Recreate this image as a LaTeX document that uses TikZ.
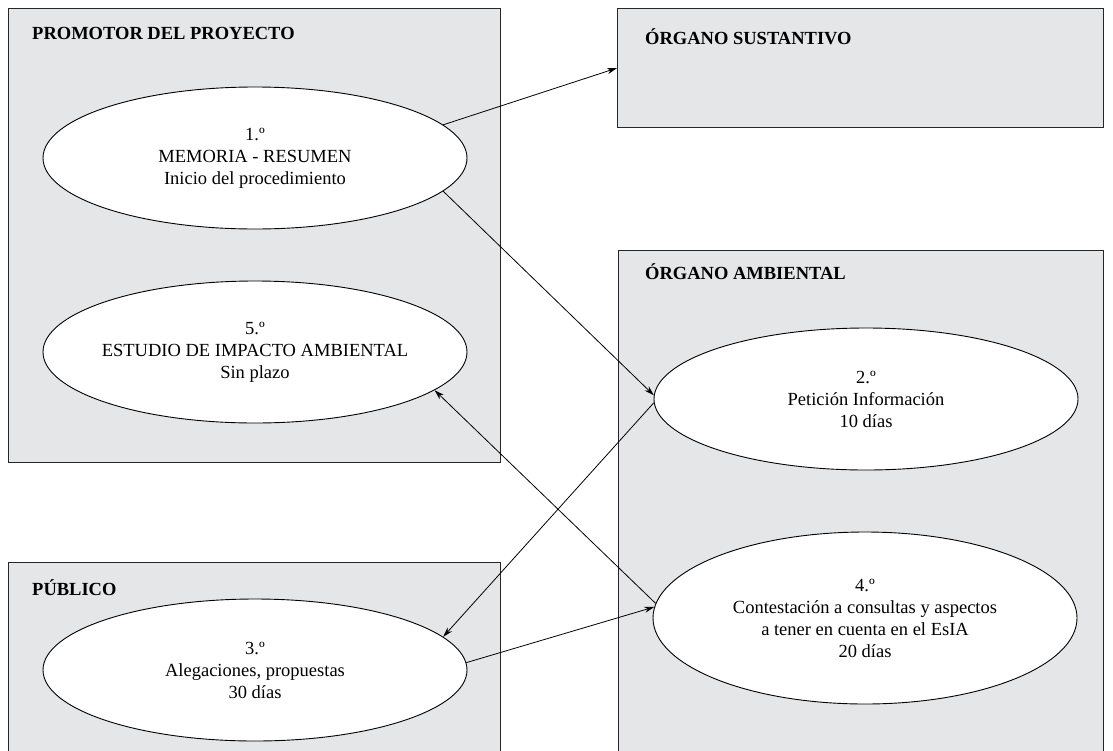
\documentclass[tikz,border=0pt]{standalone}
\usepackage{fontspec}
\setmainfont{Liberation Serif}
\usetikzlibrary{shapes.geometric,arrows.meta}
\definecolor{boxgray}{RGB}{229,230,232}
\begin{document}
\begin{tikzpicture}[x=1pt,y=-1pt,
  panel/.style={draw=black!85, line width=1.1pt, fill=boxgray, anchor=north west, inner sep=0pt},
  paneltitle/.style={anchor=west, inner sep=0pt, font=\fontsize{18.5}{22}\selectfont\bfseries},
  stage/.style={ellipse, draw=black, line width=0.9pt, fill=white, minimum width=424pt,
    minimum height=142pt, inner xsep=-14pt, inner ysep=0pt, align=center, font=\fontsize{18.5}{22}\selectfont},
  link/.style={line width=0.8pt, -{Stealth[length=10pt,width=6pt]}}]
\useasboundingbox (0,0) rectangle (1113,750);
\clip (0,0) rectangle (1113,750);
\fill[white] (0,0) rectangle (1113,750);
% panels
\node[panel, minimum width=492pt, minimum height=454pt] (prom) at (8,8) {};
\node[panel, minimum width=486pt, minimum height=119pt] (sust) at (617,8) {};
\node[panel, minimum width=485pt, minimum height=520pt] (amb) at (618,250) {};
\node[panel, minimum width=492pt, minimum height=200pt] (pub) at (8,562) {};
% titles
\node[paneltitle] (tprom) at (32,33) {PROMOTOR DEL PROYECTO};
\node[paneltitle] (tsust) at (645,37) {ÓRGANO SUSTANTIVO};
\node[paneltitle] (tamb) at (645,272) {ÓRGANO AMBIENTAL};
\node[paneltitle] (tpub) at (32,588) {PÚBLICO};
% stages
\node[stage] (mem) at (255,158) {1.º\\MEMORIA - RESUMEN\\Inicio del procedimiento};
\node[stage] (est) at (255,352) {5.º\\ESTUDIO DE IMPACTO AMBIENTAL\\Sin plazo};
\node[stage] (pet) at (866,399) {2.º\\Petición Información\\10 días};
\node[stage, minimum height=172pt] (cont) at (865,618) {4.º\\Contestación a consultas y aspectos\\a tener en cuenta en el EsIA\\20 días};
\node[stage] (aleg) at (255,670) {3.º\\Alegaciones, propuestas\\30 días};
% connectors
\draw[link] (mem.10) -- (sust.west);
\draw[link] (mem.-10) -- (pet.179);
\draw[link] (pet.181) -- (aleg.10);
\draw[link] (aleg.2) -- (cont.177);
\draw[link] (cont.176) -- (est.-12);
\end{tikzpicture}
\end{document}
